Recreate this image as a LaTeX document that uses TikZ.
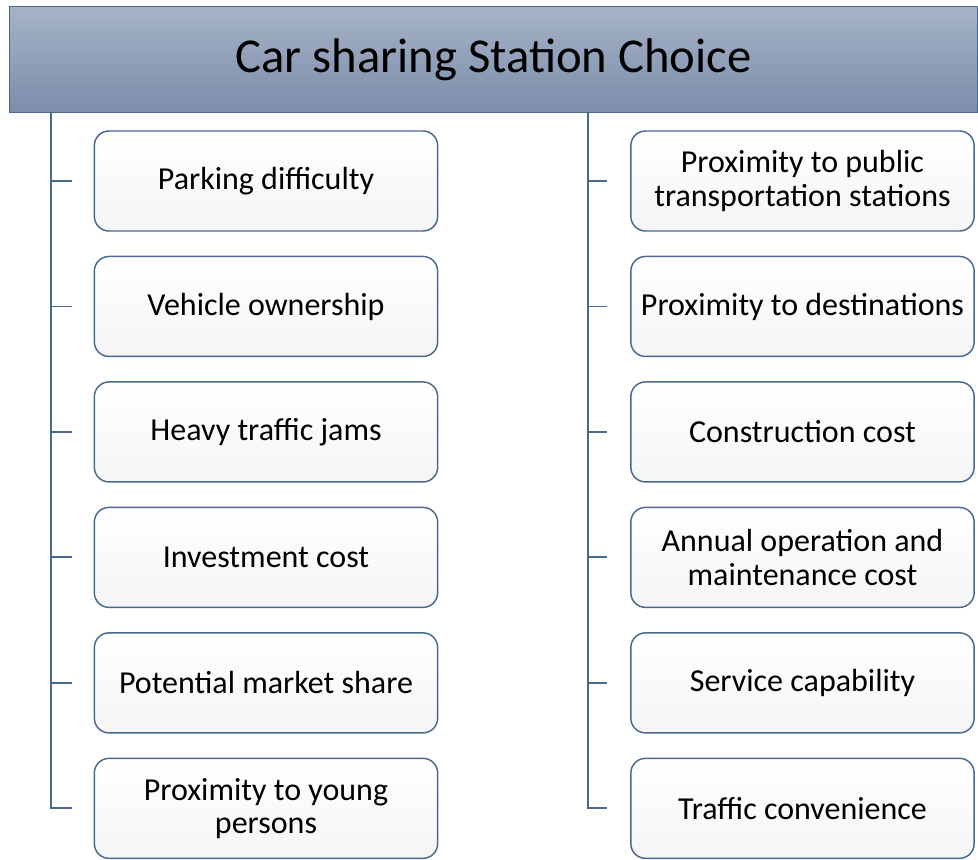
\documentclass[tikz,border=0pt]{standalone}
\usepackage{fontspec}
\setmainfont{Carlito}
\usetikzlibrary{positioning,chains}
\definecolor{edgeblue}{HTML}{4A6890}
\definecolor{bartop}{HTML}{A6B3C7}
\definecolor{barbot}{HTML}{7C8DAA}
\begin{document}
\begin{tikzpicture}[
            x=0.75pt, y=-0.75pt,
            every node/.style={ font=\fontsize{24}{25}\selectfont, align=center },
            factor/.style={ draw=edgeblue, line width=1.1pt, rounded corners=11pt,
                            top color=white, bottom color=black!4,
                            minimum width=257.5pt, minimum height=75pt, inner sep=2pt },
            link/.style={ draw=edgeblue, line width=1.4pt },
            start chain=L going below,
            start chain=R going below,
            node distance=18pt
        ]
        \useasboundingbox (0,0) rectangle (978,860);

        \node[draw=edgeblue, line width=0.9pt, top color=bartop, bottom color=barbot,
              minimum width=726.5pt, minimum height=80pt, inner sep=0pt,
              font=\fontsize{36.5}{40}\selectfont] (title) at (493.5,59.5) {Car sharing Station Choice};

        % left column
        \node[factor, on chain=L] (l1) at (266,181) {Parking difficulty};
        \node[factor, on chain=L] (l2) {Vehicle ownership};
        \node[factor, on chain=L] (l3) {Heavy traffic jams};
        \node[factor, on chain=L] (l4) {Investment cost};
        \node[factor, on chain=L] (l5) {Potential market share};
        \node[factor, on chain=L] (l6) {Proximity to young\\persons};

        % right column
        \node[factor, on chain=R] (r1) at (802.5,181) {Proximity to public\\transportation stations};
        \node[factor, on chain=R] (r2) {Proximity to destinations};
        \node[factor, on chain=R] (r3) {Construction cost};
        \node[factor, on chain=R] (r4) {Annual operation and\\maintenance cost};
        \node[factor, on chain=R] (r5) {Service capability};
        \node[factor, on chain=R] (r6) {Traffic convenience};

        \coordinate (lx) at (51,0);
        \coordinate (rx) at (588,0);
        \draw[link] (title.south -| lx) |- ([xshift=-16.5pt]l6.west);
        \draw[link] (title.south -| rx) |- ([xshift=-17.5pt]r6.west);
        \foreach \i in {1,...,5} {
            \draw[link] (l\i.west -| lx) -- ([xshift=-16.5pt]l\i.west);
            \draw[link] (r\i.west -| rx) -- ([xshift=-17.5pt]r\i.west);
        }
    \end{tikzpicture}
\end{document}
